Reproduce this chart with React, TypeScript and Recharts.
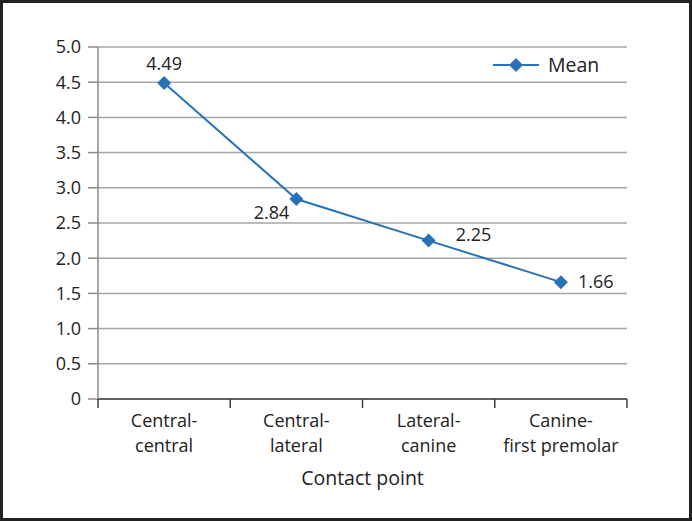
import { LineChart, Line, XAxis, YAxis, CartesianGrid, Legend } from "recharts";

const categories = [
  ["Central-", "central"],
  ["Central-", "lateral"],
  ["Lateral-", "canine"],
  ["Canine-", "first premolar"],
];
const meanValues = [4.49, 2.84, 2.25, 1.66];
const yTicks = [0, 0.5, 1, 1.5, 2, 2.5, 3, 3.5, 4, 4.5, 5];
const xTicks = [0, 0.5, 1, 1.5, 2, 2.5, 3, 3.5, 4];

const data = meanValues.map((v, i) => ({ x: i + 0.5, mean: v }));

const BLUE = "#2772B9";
const TEXT = "#222";
const FONT = "'Open Sans', sans-serif";
const WORD_SIZE = 19.5;
const TICK_WORD_SIZE = 18;
const NUM_SIZE = 18;

// label offsets per point, to sit like in the original
const labelPos = [
  { dx: 0, dy: -19, anchor: "middle" },
  { dx: -7, dy: 14, anchor: "end" },
  { dx: 27, dy: -6, anchor: "start" },
  { dx: 17, dy: 0, anchor: "start" },
];

const Diamond = (props: any) => {
  const { cx, cy } = props;
  if (cx == null || cy == null) return null;
  const r = 7;
  return (
    <polygon
      points={`${cx},${cy - r} ${cx + r},${cy} ${cx},${cy + r} ${cx - r},${cy}`}
      fill={BLUE}
    />
  );
};

const PointLabel = (props: any) => {
  const { x, y, index, value } = props;
  const p = labelPos[index] || labelPos[0];
  return (
    <text
      x={x + p.dx}
      y={y + p.dy}
      dy="0.35em"
      textAnchor={p.anchor}
      fill={TEXT}
      fontSize={NUM_SIZE}
      fontFamily={FONT}
    >
      {value.toFixed(2)}
    </text>
  );
};

const XTick = (props: any) => {
  const { x, y, payload } = props;
  const v = payload.value;
  if (Number.isInteger(v)) {
    return <line x1={x} y1={y} x2={x} y2={y + 9} stroke="#404040" strokeWidth={1.5} />;
  }
  const lines = categories[Math.floor(v)];
  return (
    <g>
      <text x={x} y={y + 28} textAnchor="middle" fill={TEXT} fontSize={TICK_WORD_SIZE} fontFamily={FONT}>
        {lines[0]}
      </text>
      <text x={x} y={y + 53} textAnchor="middle" fill={TEXT} fontSize={TICK_WORD_SIZE} fontFamily={FONT}>
        {lines[1]}
      </text>
    </g>
  );
};

const AxisTitle = (props: any) => {
  const { viewBox } = props;
  return (
    <text
      x={viewBox.x + viewBox.width / 2}
      y={viewBox.y + 86}
      textAnchor="middle"
      fill={TEXT}
      fontSize={WORD_SIZE}
      fontFamily={FONT}
    >
      Contact point
    </text>
  );
};

const LegendBox = () => (
  <svg width={120} height={26}>
    <line x1={2} y1={13} x2={48} y2={13} stroke={BLUE} strokeWidth={2} />
    <polygon points="25,6 32,13 25,20 18,13" fill={BLUE} />
    <text x={57} y={20} fill={TEXT} fontSize={WORD_SIZE} fontFamily={FONT}>
      Mean
    </text>
  </svg>
);

export default function App() {
  return (
    <div
      style={{
        position: "absolute",
        left: 0,
        top: 0,
        width: 692,
        height: 521,
        boxSizing: "border-box",
        border: "3px solid #222",
        background: "#fff",
      }}
    >
      <LineChart
        width={686}
        height={515}
        data={data}
        margin={{ top: 44, right: 62, bottom: 39, left: 35 }}
      >
        <CartesianGrid vertical={false} stroke="#A6A6A6" strokeWidth={1.5} />
        <XAxis
          dataKey="x"
          type="number"
          domain={[0, 4]}
          ticks={xTicks}
          interval={0}
          tick={<XTick />}
          tickLine={false}
          tickSize={0}
          tickMargin={0}
          height={80}
          axisLine={{ stroke: "#404040", strokeWidth: 1.5 }}
          label={{ content: <AxisTitle /> }}
        />
        <YAxis
          domain={[0, 5]}
          ticks={yTicks}
          interval={0}
          width={60}
          tickSize={10}
          tickMargin={7}
          tickFormatter={(v: number) => (v === 0 ? "0" : v.toFixed(1))}
          tick={{ fill: TEXT, fontSize: NUM_SIZE, fontFamily: FONT }}
          axisLine={{ stroke: "#8C8C8C", strokeWidth: 1.5 }}
          tickLine={{ stroke: "#8C8C8C", strokeWidth: 1.5 }}
        />
        <Legend
          layout="vertical"
          align="center"
          verticalAlign="middle"
          content={<LegendBox />}
          wrapperStyle={{ top: 49, left: 488, width: 120, height: 26 }}
        />
        <Line
          type="linear"
          dataKey="mean"
          name="Mean"
          stroke={BLUE}
          strokeWidth={2}
          dot={<Diamond />}
          activeDot={false}
          label={<PointLabel />}
          isAnimationActive={false}
        />
      </LineChart>
    </div>
  );
}
